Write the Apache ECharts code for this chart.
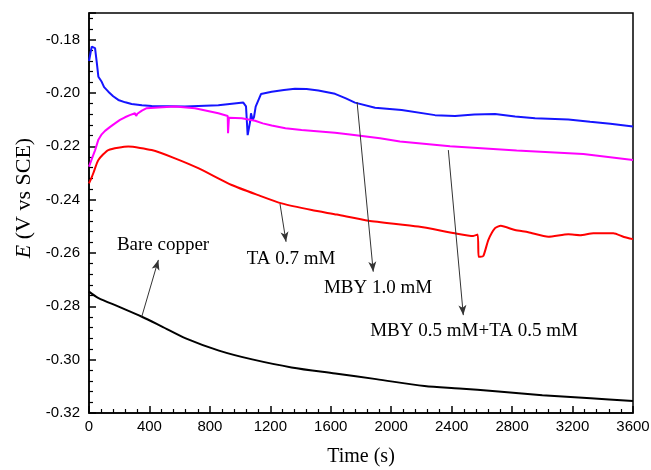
<!DOCTYPE html>
<html>
<head>
<meta charset="utf-8">
<script src="https://cdn.jsdelivr.net/npm/echarts@6/dist/echarts.min.js"></script>
<style>
html, body { margin: 0; padding: 0; background: #fff; }
#chart { width: 651px; height: 470px; }
</style>
</head>
<body>
<div id="chart"></div>
<script>
// time (s) and potential E (V vs SCE)
var tBare = [0, 60, 200, 350, 480, 640, 860, 1080, 1340, 1630, 1900, 2220, 2450, 2690, 3000, 3320, 3600];
var eBare = [-0.2745, -0.2768, -0.2802, -0.2839, -0.2875, -0.2920, -0.2966, -0.2999, -0.3029, -0.3052,
             -0.3073, -0.3099, -0.3108, -0.3118, -0.3133, -0.3145, -0.3155];

var tTA = [0, 15, 29, 62, 128, 260, 415, 569, 723, 944, 1120, 1275, 1474, 1640, 1849, 2179, 2422, 2543,
           2572, 2578, 2590, 2610, 2643, 2687, 2725, 2819, 2907, 3040, 3172, 3250, 3338, 3470, 3540, 3600];
var eTA = [-0.2339, -0.2320, -0.2300, -0.2251, -0.2214, -0.2201, -0.2214, -0.2245, -0.2282, -0.2345,
           -0.2383, -0.2414, -0.2439, -0.2456, -0.2479, -0.2501, -0.2526, -0.2536,
           -0.2531, -0.2614, -0.2614, -0.2611, -0.2551, -0.2507, -0.2498, -0.2514, -0.2522, -0.2539,
           -0.2530, -0.2533, -0.2526, -0.2526, -0.2540, -0.2548];

var tMBY = [0, 10, 18, 29, 40, 51, 62, 84, 100, 128, 160, 194, 240, 282, 350, 415, 635, 856, 1021, 1032,
            1039, 1050, 1066, 1072, 1083, 1092, 1103, 1138, 1209, 1290, 1363, 1440, 1518, 1628, 1700,
            1760, 1893, 2069, 2290, 2422, 2550, 2687, 2820, 2952, 3172, 3316, 3450, 3600];
var eMBY = [-0.1880, -0.1850, -0.1826, -0.1820, -0.1832, -0.1883, -0.1939, -0.1958, -0.1978, -0.1995,
            -0.2012, -0.2026, -0.2035, -0.2041, -0.2046, -0.2049, -0.2051, -0.2046, -0.2036, -0.2034,
            -0.2050, -0.2158, -0.2108, -0.2076, -0.2101, -0.2090, -0.2051, -0.2004, -0.1995, -0.1989,
            -0.1984, -0.1985, -0.1991, -0.2003, -0.2020, -0.2036, -0.2055, -0.2064, -0.2083, -0.2086,
            -0.2081, -0.2079, -0.2088, -0.2095, -0.2099, -0.2108, -0.2115, -0.2126];

var tMix = [0, 20, 40, 62, 84, 106, 140, 172, 205, 238, 270, 304, 312, 320, 350, 382, 459, 569, 701, 856,
            918, 920, 924, 926, 1011, 1099, 1150, 1209, 1300, 1407, 1628, 1727, 1926, 2058, 2389, 2830,
            3271, 3600];
var eMix = [-0.2276, -0.2245, -0.2215, -0.2175, -0.2155, -0.2142, -0.2127, -0.2114, -0.2101, -0.2091,
            -0.2083, -0.2076, -0.2086, -0.2078, -0.2066, -0.2057, -0.2054, -0.2051, -0.2057, -0.2076,
            -0.2086, -0.2151, -0.2151, -0.2093, -0.2095, -0.2104, -0.2114, -0.2122, -0.2132, -0.2139,
            -0.2149, -0.2156, -0.2170, -0.2182, -0.2200, -0.2216, -0.2229, -0.2251];

// annotation arrows (from curve to text) and texts, in data units
var arrowBare = [[349, -0.2839], [459, -0.2626]];
var arrowTA = [[1264, -0.2416], [1304, -0.2558]];
var arrowMBY = [[1774, -0.2034], [1881, -0.2670]];
var arrowMix = [[2378, -0.2214], [2477, -0.2833]];

var labelNames = ['Bare copper', 'TA 0.7 mM', 'MBY 1.0 mM', 'MBY 0.5 mM+TA 0.5 mM'];
var labelAt = [[490, -0.2570], [1337, -0.2623], [1913, -0.2731], [2548, -0.2893]];

var xMin = 0, xMax = 3600, xStep = 400;
var yMin = -0.32, yMax = -0.17, yStep = 0.02;

function pairs(t, e) {
    return t.map(function (v, i) { return [v, e[i]]; });
}

var serif = 'Liberation Serif';
var sans = 'Liberation Sans';

function arrow(a) {
    return {
        silent: true,
        symbol: ['none', 'arrow'],
        symbolSize: [6, 10],
        label: { show: false },
        lineStyle: { color: '#333', width: 1, type: 'solid' },
        emphasis: { disabled: true },
        data: [[{ coord: a[0] }, { coord: a[1] }]]
    };
}

var texts = labelNames.map(function (n, i) {
    return {
        name: n, coord: labelAt[i],
        symbol: 'rect', symbolSize: 1,
        itemStyle: { color: 'rgba(0,0,0,0)' },
        label: { show: true, position: 'inside', formatter: '{b}', color: '#000',
                 fontFamily: serif, fontSize: 19 }
    };
});

function line(name, t, e, color, extra) {
    var s = {
        name: name,
        type: 'line',
        data: pairs(t, e),
        showSymbol: false,
        lineStyle: { color: color, width: 2 },
        itemStyle: { color: color },
        emphasis: { disabled: true },
        z: 3
    };
    for (var k in extra) s[k] = extra[k];
    return s;
}

var option = {
    animation: false,
    backgroundColor: '#fff',
    grid: {
        left: 89, right: 18, top: 13, bottom: 57,
        outerBoundsMode: 'none',
        show: true, borderColor: '#000', borderWidth: 1.5
    },
    xAxis: {
        type: 'value',
        min: xMin, max: xMax, interval: xStep,
        name: 'Time (s)',
        nameLocation: 'middle',
        nameGap: 34,
        nameTextStyle: { fontFamily: serif, fontSize: 20, color: '#000' },
        axisLine: { lineStyle: { color: '#000', width: 1.5 } },
        axisTick: { inside: true, length: 7, lineStyle: { color: '#000', width: 1.5 } },
        minorTick: { show: true, splitNumber: 5, length: 4, lineStyle: { color: '#000', width: 1.2 } },
        axisLabel: {
            color: '#000', fontFamily: sans, fontSize: 15, margin: 6,
            formatter: function (v) { return String(v); }
        },
        splitLine: { show: false }
    },
    yAxis: {
        type: 'value',
        min: yMin, max: yMax, interval: yStep,
        name: '{i|E} (V vs SCE)',
        nameLocation: 'middle',
        nameGap: 54,
        nameTextStyle: {
            fontFamily: serif, fontSize: 22, color: '#000', padding: [0, 0, 0, 30],
            rich: { i: { fontFamily: serif, fontSize: 22, fontStyle: 'italic', color: '#000' } }
        },
        axisLine: { lineStyle: { color: '#000', width: 1.5 } },
        axisTick: { inside: true, length: 7, lineStyle: { color: '#000', width: 1.5 } },
        minorTick: { show: true, splitNumber: 5, length: 4, lineStyle: { color: '#000', width: 1.2 } },
        axisLabel: {
            color: '#000', fontFamily: sans, fontSize: 15, margin: 9, showMaxLabel: false,
            formatter: function (v) { return v.toFixed(2); }
        },
        splitLine: { show: false }
    },
    series: [
        line('Bare copper', tBare, eBare, '#000000', {
            smooth: 0.3, markLine: arrow(arrowBare), markPoint: { silent: true, data: texts }
        }),
        line('TA 0.7 mM', tTA, eTA, '#ff0000', { smooth: 0.2, markLine: arrow(arrowTA) }),
        line('MBY 1.0 mM', tMBY, eMBY, '#1515ff', { markLine: arrow(arrowMBY) }),
        line('MBY 0.5 mM+TA 0.5 mM', tMix, eMix, '#ff00ff', { markLine: arrow(arrowMix) })
    ]
};

var myChart = echarts.init(document.getElementById('chart'));
myChart.setOption(option);
</script>
</body>
</html>
